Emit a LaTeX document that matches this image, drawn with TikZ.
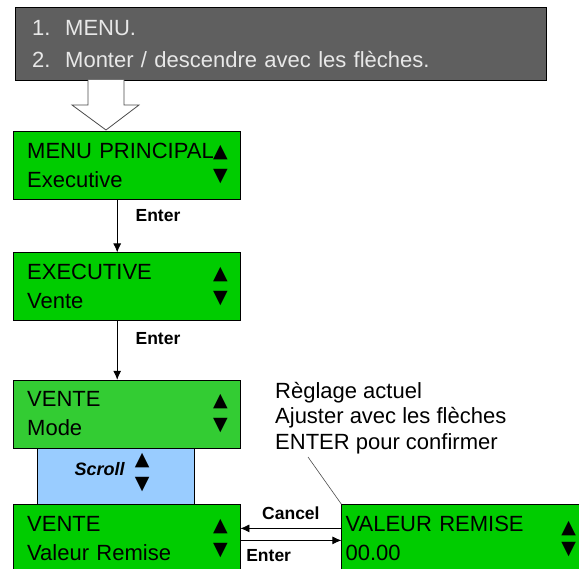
\documentclass[tikz,border=0pt]{standalone}
\usepackage{fontspec}
\setmainfont{Liberation Sans}
\newfontfamily\symfont{DejaVu Sans}
\usetikzlibrary{arrows.meta,positioning}
\definecolor{lcdgreen}{HTML}{00CC00}
\definecolor{lcdlight}{HTML}{33CC33}
\definecolor{scrollblue}{HTML}{99CCFF}
\definecolor{stepgray}{HTML}{5F5F5F}
\definecolor{steptext}{HTML}{E8E8E8}

\begin{document}
\begin{tikzpicture}[x=1pt, y=-1pt,
  lcd/.style={draw, fill=lcdgreen, anchor=north west, minimum width=227pt, minimum height=68pt,
    inner xsep=14pt, inner ysep=0pt, text width=199pt, align=left, font=\fontsize{22}{29}\selectfont},
  tri/.style={inner sep=0pt, font=\symfont\fontsize{19}{19}\selectfont},
  key/.style={inner sep=2pt, font=\bfseries\fontsize{17.5}{17.5}\selectfont},
  flow/.style={-{Latex[length=9pt,width=8pt]}, line width=0.8pt}
]
\useasboundingbox (0,0) rectangle (579,569);

% Instructions
\node[draw, fill=stepgray, text=steptext, anchor=north west, minimum width=531pt, minimum height=73pt,
  inner xsep=17pt, text width=497pt, align=left, font=\fontsize{22}{32}\selectfont] (steps) at (15,7)
  {\makebox[33pt][l]{1.}MENU.\\\makebox[33pt][l]{2.}Monter / descendre avec les flèches.};

% Hollow arrow
\draw[gray!60!black, line width=0.8pt, fill=white] (88,80) -- (88,105) -- (72,105) -- (106,130)
  -- (139,105) -- (124,105) -- (124,80);

% Screens
\node[lcd] (menu) at (13,131) {MENU PRINCIPAL\\Executive};
\node[lcd, below=53pt of menu] (exec) {EXECUTIVE\\Vente};
\node[lcd, fill=lcdlight, below=59pt of exec] (vmode) {VENTE\\Mode};
\node[draw, fill=scrollblue, minimum width=157pt, minimum height=56pt, inner sep=0pt,
  below=0pt of vmode, xshift=-11pt] (scroll) {};
\node[lcd, below=56pt of vmode] (vremise) {VENTE\\Valeur Remise};
\node[lcd, minimum width=238pt, text width=230pt, inner xsep=4pt, right=101pt of vremise] (valeur)
  {VALEUR REMISE\\00.00};

% Up / down marks
\foreach \b in {menu,exec,vmode,vremise} {
  \node[tri] at ([xshift=-20pt, yshift=-22pt]\b.north east) {▲};
  \node[tri] at ([xshift=-20pt, yshift=-46pt]\b.north east) {▼};
}
\node[tri] (valup) at ([xshift=-11pt, yshift=-24pt]valeur.north east) {▲};
\node[tri] (valdn) at ([xshift=-11pt, yshift=-45pt]valeur.north east) {▼};

% Scroll
\node[font=\bfseries\itshape\fontsize{18}{18}\selectfont, xshift=-16pt, yshift=7pt] (scrolltxt) at (scroll) {Scroll};
\node[tri] (scrollup) at ([xshift=26.5pt, yshift=16pt]scroll.center) {▲};
\node[tri] (scrolldn) at ([xshift=26.5pt, yshift=-8pt]scroll.center) {▼};

% Keys
\draw[flow] ([xshift=-9.5pt]menu.south) -- node[key, pos=0.3, right=16pt] {Enter} ([xshift=-9.5pt]exec.north);
\draw[flow] ([xshift=-9.5pt]exec.south) -- node[key, pos=0.3, right=16pt] {Enter} ([xshift=-9.5pt]vmode.north);
\draw[flow] ([yshift=10pt]valeur.west) -- node[key, above=6pt] {Cancel} ([yshift=10pt]vremise.east);
\draw[flow] ([yshift=-2pt]vremise.east) -- node[key, pos=0.28, below=7pt] {Enter} ([yshift=-2pt]valeur.west);

% Note
\node[anchor=north west, align=left, inner sep=0pt, font=\fontsize{22}{25.5}\selectfont] (note) at (275,382)
  {Règlage actuel\\Ajuster avec les flèches\\ENTER pour confirmer};
\coordinate (notetip) at (308,457);
\draw[gray!60!black, line width=0.6pt] (notetip) -- (valeur.north west);

\end{tikzpicture}
\end{document}
